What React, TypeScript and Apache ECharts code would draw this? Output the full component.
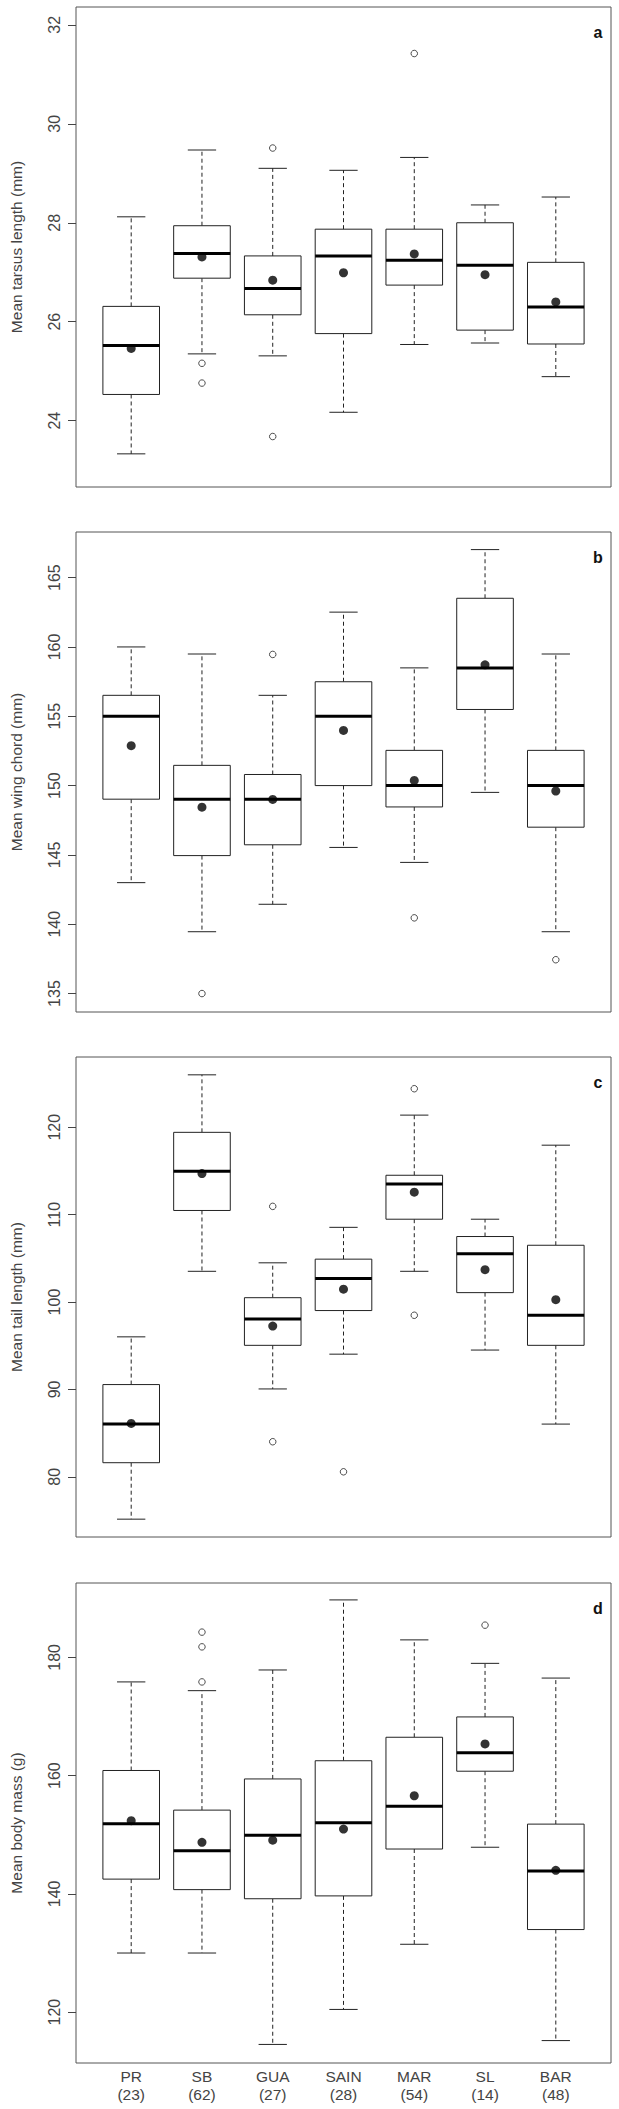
import React, { useEffect, useRef } from "react";
import * as echarts from "echarts";

const categories = ["PR", "SB", "GUA", "SAIN", "MAR", "SL", "BAR"];
const sampleSizes = [23, 62, 27, 28, 54, 14, 48];

// each box: [lower whisker, Q1, median, Q3, upper whisker]
const tarsusBoxes = [
  [23.33, 24.53, 25.52, 26.31, 28.12],
  [25.35, 26.88, 27.38, 27.94, 29.47],
  [25.31, 26.14, 26.67, 27.33, 29.1],
  [24.17, 25.76, 27.33, 27.87, 29.06],
  [25.54, 26.74, 27.24, 27.87, 29.32],
  [25.57, 25.83, 27.14, 28.0, 28.36],
  [24.89, 25.55, 26.3, 27.2, 28.52],
];
const tarsusMeans = [25.46, 27.31, 26.84, 26.99, 27.37, 26.95, 26.4];
const tarsusOutliers = [[2, 25.16], [2, 24.76], [3, 29.51], [3, 23.68], [5, 31.42]];
const tarsusTicks = [24, 26, 28, 30, 32];

const wingBoxes = [
  [143.0, 149.02, 155.0, 156.51, 160.0],
  [139.46, 144.95, 149.02, 151.46, 159.49],
  [141.44, 145.73, 149.02, 150.8, 156.51],
  [145.54, 150.0, 155.0, 157.49, 162.51],
  [144.46, 148.46, 150.0, 152.54, 158.49],
  [149.51, 155.49, 158.49, 163.51, 167.02],
  [139.46, 147.0, 150.0, 152.54, 159.49],
];
const wingMeans = [152.88, 148.44, 149.0, 153.98, 150.37, 158.71, 149.61];
const wingOutliers = [[2, 135.0], [3, 159.46], [5, 140.46], [7, 137.44]];
const wingTicks = [135, 140, 145, 150, 155, 160, 165];

const tailBoxes = [
  [75.16, 81.62, 86.04, 90.56, 96.02],
  [103.52, 110.48, 114.97, 119.42, 126.0],
  [90.06, 95.05, 98.07, 100.5, 104.49],
  [94.04, 99.03, 102.71, 104.91, 108.55],
  [103.52, 109.48, 113.5, 114.51, 121.39],
  [94.51, 101.08, 105.53, 107.5, 109.48],
  [86.04, 95.05, 98.49, 106.5, 117.95],
];
const tailMeans = [86.11, 114.7, 97.25, 101.47, 112.57, 103.71, 100.27];
const tailOutliers = [[3, 110.95], [3, 84.02], [4, 80.58], [5, 124.41], [5, 98.49]];
const tailTicks = [80, 90, 100, 110, 120];

const massBoxes = [
  [130.0, 142.5, 151.86, 160.87, 175.85],
  [130.0, 140.72, 147.3, 154.17, 174.37],
  [114.54, 139.18, 149.91, 159.44, 177.87],
  [120.46, 139.66, 152.04, 162.52, 189.72],
  [131.48, 147.59, 154.82, 166.49, 182.96],
  [147.89, 160.75, 163.89, 169.93, 178.99],
  [115.19, 133.97, 143.86, 151.8, 176.5],
];
const massMeans = [152.39, 148.72, 149.08, 150.97, 156.6, 165.37, 143.98];
const massOutliers = [[2, 184.27], [2, 181.78], [2, 175.85], [6, 185.45]];
const massTicks = [120, 140, 160, 180];

const panels = [
  { letter: "a", name: "Mean tarsus length (mm)", boxes: tarsusBoxes, means: tarsusMeans, outliers: tarsusOutliers, ticks: tarsusTicks, min: 22.66, max: 32.36 },
  { letter: "b", name: "Mean wing chord (mm)", boxes: wingBoxes, means: wingMeans, outliers: wingOutliers, ticks: wingTicks, min: 133.67, max: 168.29 },
  { letter: "c", name: "Mean tail length (mm)", boxes: tailBoxes, means: tailMeans, outliers: tailOutliers, ticks: tailTicks, min: 73.12, max: 128.04 },
  { letter: "d", name: "Mean body mass (g)", boxes: massBoxes, means: massMeans, outliers: massOutliers, ticks: massTicks, min: 111.4, max: 192.58 },
];

const FONT = "Liberation Sans, Arial, sans-serif";
const GRID_TOPS = [7, 532, 1057, 1583];
const GRID_LEFT = 75;
const GRID_W = 536;
const GRID_H = 480;
const TEXT_COLOR = "#444";

function renderBox(params: any, api: any) {
  const x = api.value(0);
  const pLo = api.coord([x, api.value(1)]);
  const pQ1 = api.coord([x, api.value(2)]);
  const pMed = api.coord([x, api.value(3)]);
  const pQ3 = api.coord([x, api.value(4)]);
  const pHi = api.coord([x, api.value(5)]);
  const bw = api.size([0.8, 0])[0];
  const cw = api.size([0.4, 0])[0];
  const cx = pMed[0];
  const dash = { stroke: "#222", lineWidth: 1, lineDash: [4, 3] };
  const solid = { stroke: "#222", lineWidth: 1 };
  return {
    type: "group",
    children: [
      { type: "line", shape: { x1: cx, y1: pQ3[1], x2: cx, y2: pHi[1] }, style: dash },
      { type: "line", shape: { x1: cx, y1: pQ1[1], x2: cx, y2: pLo[1] }, style: dash },
      { type: "line", shape: { x1: cx - cw / 2, y1: pHi[1], x2: cx + cw / 2, y2: pHi[1] }, style: solid },
      { type: "line", shape: { x1: cx - cw / 2, y1: pLo[1], x2: cx + cw / 2, y2: pLo[1] }, style: solid },
      {
        type: "rect",
        shape: { x: cx - bw / 2, y: pQ3[1], width: bw, height: pQ1[1] - pQ3[1] },
        style: { fill: "#fff", stroke: "#222", lineWidth: 1 },
      },
      { type: "line", shape: { x1: cx - bw / 2, y1: pMed[1], x2: cx + bw / 2, y2: pMed[1] }, style: { stroke: "#000", lineWidth: 3 } },
    ],
  };
}

export default function App() {
  const ref = useRef<HTMLDivElement>(null);
  useEffect(() => {
    if (!ref.current) return;
    const chart = echarts.init(ref.current, null, { renderer: "svg" });
    const xIdx = categories.map((_, i) => i + 1);
    const option: any = {
      animation: false,
      backgroundColor: "#fff",
      grid: panels.map((_, i) => ({
        left: GRID_LEFT,
        top: GRID_TOPS[i],
        width: GRID_W,
        height: GRID_H,
        show: true,
        borderColor: "#555",
        borderWidth: 1,
        backgroundColor: "transparent",
      })),
      xAxis: panels.map((_, i) => ({
        gridIndex: i,
        type: "value",
        min: 0.22,
        max: 7.78,
        axisLine: { show: false },
        axisTick: { show: false },
        splitLine: { show: false },
        axisLabel: {
          show: i === panels.length - 1,
          customValues: xIdx,
          margin: 4,
          fontFamily: FONT,
          fontSize: 15.5,
          lineHeight: 18,
          color: TEXT_COLOR,
          formatter: (v: number) => {
            const k = Math.round(v) - 1;
            return categories[k] + "\n(" + sampleSizes[k] + ")";
          },
        },
      })),
      yAxis: panels.map((p, i) => ({
        gridIndex: i,
        type: "value",
        min: p.min,
        max: p.max,
        name: p.name,
        nameLocation: "middle",
        nameRotate: 90,
        nameGap: 52,
        nameTextStyle: { fontFamily: FONT, fontSize: 15.5, color: TEXT_COLOR },
        axisLine: { show: false },
        splitLine: { show: false },
        axisTick: { show: true, length: 8, customValues: p.ticks, lineStyle: { color: "#444", width: 1 } },
        axisLabel: {
          show: true,
          rotate: 90,
          margin: 14,
          customValues: p.ticks,
          fontFamily: FONT,
          fontSize: 16,
          color: TEXT_COLOR,
        },
      })),
      series: panels.flatMap((p, i) => [
        {
          type: "custom",
          xAxisIndex: i,
          yAxisIndex: i,
          renderItem: renderBox,
          encode: { x: 0, y: [1, 2, 3, 4, 5] },
          data: p.boxes.map((b, k) => [k + 1, ...b]),
          z: 2,
        },
        {
          type: "scatter",
          xAxisIndex: i,
          yAxisIndex: i,
          symbol: "circle",
          symbolSize: 6.5,
          itemStyle: { color: "#fff", borderColor: "#222", borderWidth: 1 },
          data: p.outliers,
          z: 3,
        },
        {
          type: "scatter",
          xAxisIndex: i,
          yAxisIndex: i,
          symbol: "circle",
          symbolSize: 9,
          itemStyle: { color: "#000" },
          data: p.means.map((m, k) => [k + 1, m]),
          z: 4,
        },
      ]),
      graphic: panels.map((p, i) => ({
        type: "text",
        x: 598,
        y: GRID_TOPS[i] + 33,
        style: {
          text: p.letter,
          fontFamily: FONT,
          fontSize: 16,
          fontWeight: "bold",
          fill: "#111",
          textAlign: "center",
          textVerticalAlign: "bottom",
        },
      })),
    };
    chart.setOption(option);
    return () => chart.dispose();
  }, []);
  return (
    <div
      ref={ref}
      style={{ position: "absolute", left: 0, top: 0, width: 619, height: 2109, background: "#fff" }}
    />
  );
}
